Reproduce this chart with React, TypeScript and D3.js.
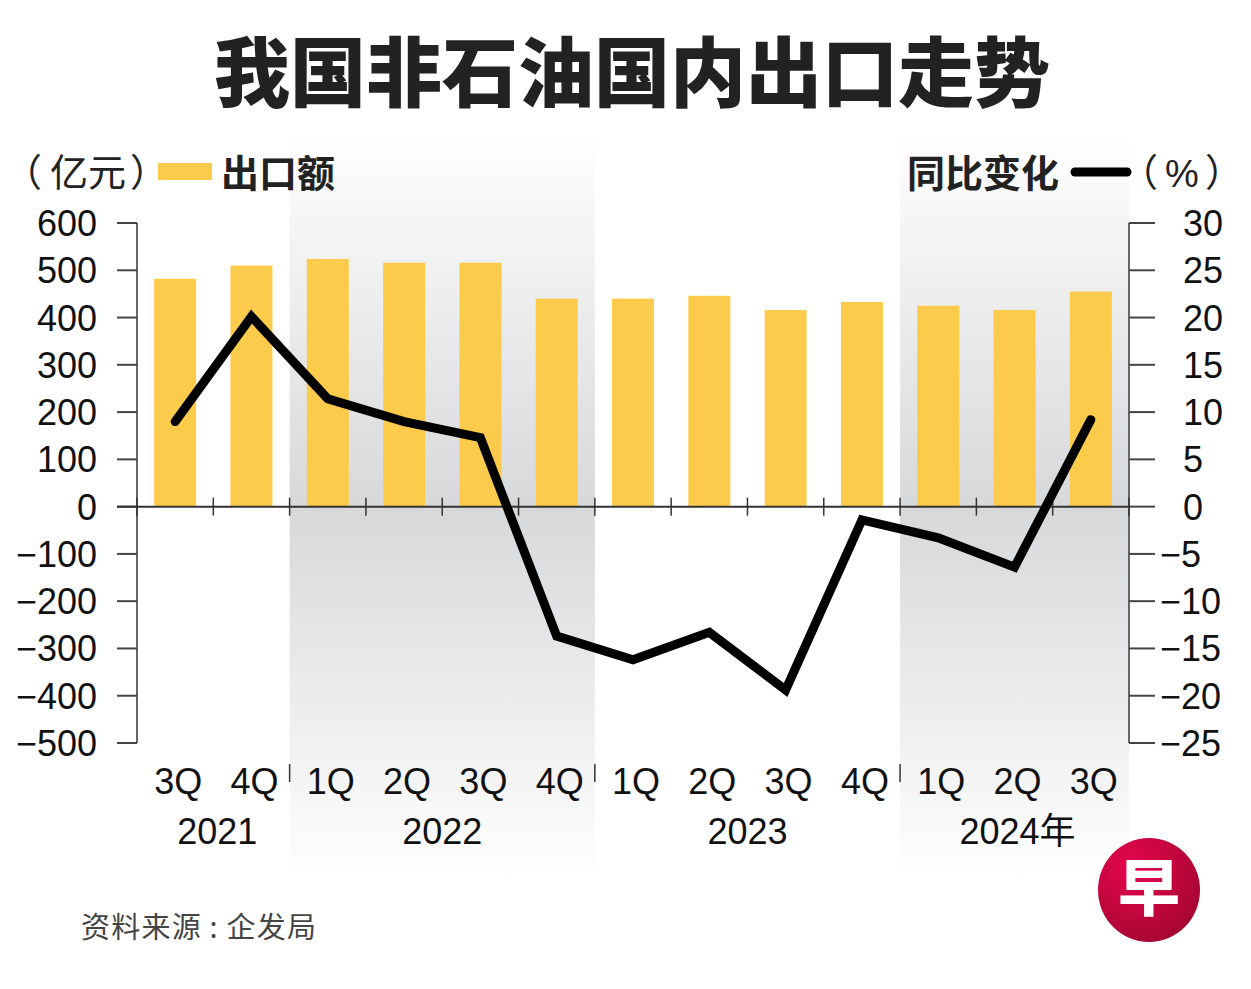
import React from "react";
import * as d3 from "d3";

// quarters on the x axis
const quarters = ["3Q", "4Q", "1Q", "2Q", "3Q", "4Q", "1Q", "2Q", "3Q", "4Q", "1Q", "2Q", "3Q"];
const quarterYears = ["2021", "2021", "2022", "2022", "2022", "2022", "2023", "2023", "2023", "2023", "2024", "2024", "2024"];
const yearLabels = ["2021", "2022", "2023", "2024"];
const shadedYears = ["2022", "2024"];

// 出口额 (亿元)
const exportValues = [482, 510, 524, 516, 516, 440, 440, 446, 416, 433, 425, 416, 455];
// 同比变化 (%)
const yoyValues = [9.0, 20.1, 11.4, 9.0, 7.3, -13.7, -16.2, -13.3, -19.4, -1.4, -3.3, -6.4, 9.2];

const leftTicks = [600, 500, 400, 300, 200, 100, 0, -100, -200, -300, -400, -500];
const rightTicks = [30, 25, 20, 15, 10, 5, 0, -5, -10, -15, -20, -25];

const W = 1251;
const H = 989;
const left = 137;
const right = 1129;
const top = 223;
const bottom = 743;

const numFont = "'Liberation Sans', Arial, sans-serif";
const cjkFont = "'Noto Sans CJK SC', 'Noto Sans', sans-serif";
const barColor = "#FDCB4B";
const fmt = (v: number) => (v < 0 ? "\u2212" + Math.abs(v) : String(v));

export default function App() {
  const x = d3
    .scaleBand<number>()
    .domain(quarters.map((_, i) => i))
    .range([left, right])
    .padding(0);
  const step = x.step();
  const barW = step * 0.55;
  const yL = d3.scaleLinear().domain([-500, 600]).range([bottom, top]);
  const yR = d3.scaleLinear().domain([-25, 30]).range([bottom, top]);
  const y0 = yL(0);

  const line = d3
    .line<number>()
    .x((_, i) => (x(i) as number) + step / 2)
    .y((d) => yR(d));

  const yearSpan = (yr: string) => {
    const idx = quarterYears.map((q, i) => (q === yr ? i : -1)).filter((i) => i >= 0);
    const x0 = x(idx[0]) as number;
    const x1 = (x(idx[idx.length - 1]) as number) + step;
    return [x0, x1];
  };

  const boundaries = quarters.map((_, i) => x(i) as number).concat([right]);
  const yearBoundaries = yearLabels.slice(1).map((yr) => yearSpan(yr)[0]);

  return (
    <svg width={W} height={H} style={{ position: "absolute", left: 0, top: 0, background: "#fff" }}>
      <defs>
        <linearGradient id="shade" x1="0" y1="130" x2="0" y2="880" gradientUnits="userSpaceOnUse">
          <stop offset="0" stopColor="#ffffff" />
          <stop offset={(y0 - 130) / 750} stopColor="#d7d8da" />
          <stop offset="1" stopColor="#ffffff" />
        </linearGradient>
        <radialGradient id="logo" cx="0.35" cy="0.3" r="0.8">
          <stop offset="0" stopColor="#e8064f" />
          <stop offset="1" stopColor="#a0062f" />
        </radialGradient>
      </defs>

      {shadedYears.map((yr) => {
        const [a, b] = yearSpan(yr);
        return <rect key={yr} x={a} y={130} width={b - a} height={750} fill="url(#shade)" />;
      })}

      <text x={632} y={101} textAnchor="middle" fontFamily={cjkFont} fontWeight={900} fontSize={76} fill="#222">
        我国非石油国内出口走势
      </text>

      {/* legends */}
      <g fontFamily={cjkFont} fontSize={38} fill="#222">
        <text x={4} y={186}>（</text>
        <text x={50} y={186}>亿元</text>
        <text x={130} y={186}>）</text>
      </g>
      <rect x={158} y={163} width={54} height={17} fill={barColor} />
      <text x={221} y={187} fontFamily={cjkFont} fontWeight={700} fontSize={38} fill="#222">出口额</text>
      <text x={907} y={187} fontFamily={cjkFont} fontWeight={700} fontSize={38} fill="#222">同比变化</text>
      <line x1={1075} x2={1127} y1={172} y2={172} stroke="#000" strokeWidth={9} strokeLinecap="round" />
      <g fontSize={38} fill="#222">
        <text x={1120} y={186} fontFamily={cjkFont}>（</text>
        <text x={1165} y={187} fontFamily={numFont}>%</text>
        <text x={1205} y={186} fontFamily={cjkFont}>）</text>
      </g>

      {/* bars */}
      {exportValues.map((v, i) => (
        <rect
          key={i}
          x={(x(i) as number) + (step - barW) / 2}
          y={yL(v)}
          width={barW}
          height={y0 - yL(v)}
          fill={barColor}
        />
      ))}

      {/* left axis */}
      <line x1={left} x2={left} y1={top} y2={bottom} stroke="#666" strokeWidth={2} />
      {leftTicks.map((t) => (
        <g key={t}>
          <line x1={left - 20} x2={left} y1={yL(t)} y2={yL(t)} stroke="#444" strokeWidth={2} />
          <text x={97} y={yL(t) + 13} textAnchor="end" fontFamily={numFont} fontSize={36} fill="#111">
            {fmt(t)}
          </text>
        </g>
      ))}

      {/* right axis */}
      <line x1={right} x2={right} y1={top} y2={bottom} stroke="#666" strokeWidth={2} />
      {rightTicks.map((t) => (
        <g key={t}>
          <line x1={right} x2={right + 26} y1={yR(t)} y2={yR(t)} stroke="#444" strokeWidth={2} />
          <text x={1183} y={yR(t) + 13} fontFamily={numFont} fontSize={36} fill="#111">
            {t < 0 ? <tspan dx={-23}>{fmt(t)}</tspan> : fmt(t)}
          </text>
        </g>
      ))}

      {/* zero line with quarter ticks */}
      <line x1={left - 20} x2={right} y1={y0} y2={y0} stroke="#333" strokeWidth={2} />
      {boundaries.map((b, i) => (
        <line key={i} x1={b} x2={b} y1={y0 - 9} y2={y0 + 9} stroke="#333" strokeWidth={1.5} />
      ))}

      {/* yoy line */}
      <path d={line(yoyValues) as string} fill="none" stroke="#000" strokeWidth={9} strokeLinejoin="miter" strokeLinecap="round" />

      {/* x labels */}
      {quarters.map((q, i) => (
        <text
          key={i}
          x={(x(i) as number) + step / 2 + 3}
          y={794}
          textAnchor="middle"
          fontFamily={numFont}
          fontSize={36}
          fill="#111"
        >
          {q}
        </text>
      ))}
      {yearBoundaries.map((b, i) => (
        <line key={i} x1={b} x2={b} y1={764} y2={782} stroke="#333" strokeWidth={1.5} />
      ))}
      {yearLabels.map((yr, i) => {
        const [a, b] = yearSpan(yr);
        return (
          <text key={yr} x={(a + b) / 2 + (i === 0 ? 4 : i === 3 ? 3 : 0)} y={844} textAnchor="middle" fontFamily={numFont} fontSize={36} fill="#111">
            {yr}
            {i === 3 ? <tspan fontFamily={cjkFont}>年</tspan> : null}
          </text>
        );
      })}

      {/* source */}
      <text x={81} y={938} fontFamily={cjkFont} fontSize={29} fill="#444" textLength={235} lengthAdjust="spacing">
        资料来源 : 企发局
      </text>

      {/* logo */}
      <ellipse cx={1149} cy={890} rx={51} ry={52} fill="url(#logo)" />
      <text x={1149} y={911} textAnchor="middle" fontFamily={cjkFont} fontWeight={900} fontSize={62} fill="#fff">早</text>
    </svg>
  );
}
